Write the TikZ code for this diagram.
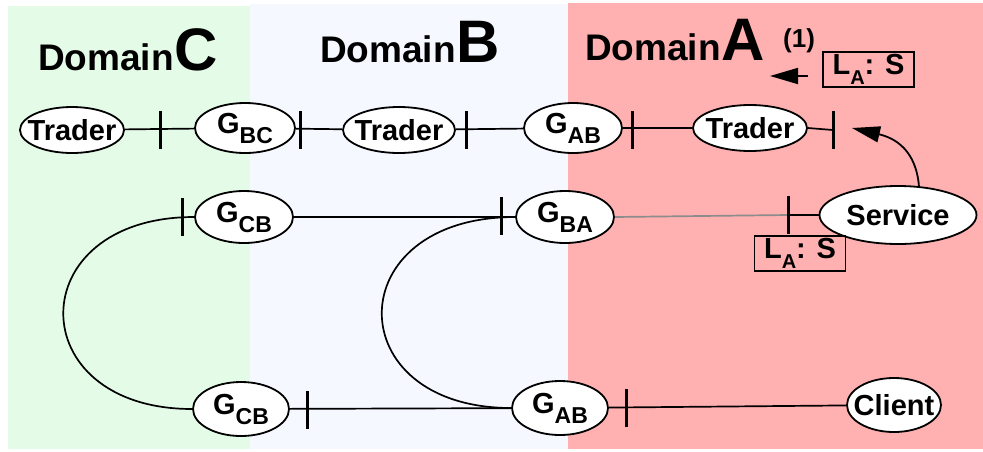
\documentclass[tikz,border=0pt]{standalone}
\usepackage{fontspec}
\setmainfont{Liberation Sans}
\usetikzlibrary{arrows.meta,shapes.geometric}
\definecolor{domC}{HTML}{E4FCE7}
\definecolor{domB}{HTML}{F5F8FF}
\definecolor{domA}{HTML}{FFB0B0}
\definecolor{linkgray}{HTML}{8C8C8C}
% lowered index used in gateway and lease labels
\newcommand{\lowidx}[2][23]{\raisebox{-10pt}{\fontsize{#1}{#1}\selectfont #2}}
\begin{document}
\begin{tikzpicture}[x=1pt,y=-1pt,
  entity/.style={ellipse,draw,fill=white,line width=1.8pt,inner xsep=-10pt,inner ysep=-10pt,
    font=\fontsize{29}{31}\selectfont\bfseries},
  trader/.style={entity,minimum width=106pt,minimum height=46pt},
  gate/.style={entity,minimum width=98pt,minimum height=52pt},
  lease/.style={draw,line width=1.6pt,inner sep=0pt,minimum width=91pt,minimum height=35pt,
    font=\fontsize{29}{31}\selectfont\bfseries},
  conn/.style={line width=1.7pt},
  title/.style={anchor=base west,inner sep=0pt,font=\bfseries},
  stopbar/.pic={\draw[line width=3pt] (0,-19) -- (0,19);},
  tipstyle/.style={-{Triangle[length=28pt,width=16pt]}}
]
\useasboundingbox (0,0) rectangle (983,451);
\fill[white] (0,0) rectangle (983,451);
% domain backgrounds
\fill[domC] (8,6) rectangle (250,449);
\fill[domB] (250,4) rectangle (568,449);
\fill[domA] (568,3) rectangle (983,449);

% domain titles
\node[title] (tC) at (38,70) {\fontsize{37}{37}\selectfont Domain\kern1pt\fontsize{60}{60}\selectfont C};
\node[title] (tB) at (320,62) {\fontsize{37}{37}\selectfont Domain\kern1pt\fontsize{60}{60}\selectfont B};
\node[title] (tA) at (585,60) {\fontsize{37}{37}\selectfont Domain\kern1pt\fontsize{60}{60}\selectfont A};
\node[title] (step1) at (783,47) {\fontsize{26}{26}\selectfont (1)};

% trader chain
\node[trader,minimum width=104pt] (trC) at (72,130) {Trader};
\node[gate,minimum width=100pt,minimum height=50pt] (gbc) at (245,128) {G\lowidx{BC}};
\node[trader,minimum width=112pt] (trB) at (399,130) {Trader};
\node[gate,minimum height=50pt] (gab1) at (573,128) {G\lowidx{AB}};
\node[trader,minimum width=114pt] (trA) at (750,128) {Trader};
\coordinate (trEnd) at (833,130);

% gateway row
\node[gate] (gcb1) at (244,217) {G\lowidx{CB}};
\node[gate] (gba) at (565,217) {G\lowidx{BA}};
\node[entity,minimum width=157pt,minimum height=58pt] (svc) at (898,215) {Service};

% client row
\node[gate,minimum width=96pt,minimum height=54pt] (gcb2) at (241,409) {G\lowidx{CB}};
\node[gate,minimum width=96pt,minimum height=54pt] (gab2) at (560,408) {G\lowidx{AB}};
\node[entity,minimum width=94pt,minimum height=54pt] (cli) at (894,405) {Client};

% lease boxes
\node[lease] (lease1) at (868.5,69.5) {L\lowidx[20]{A}: S};
\node[lease] (lease2) at (800,253.5) {L\lowidx[20]{A}: S};

% connectors
\draw[conn] (trC) -- (gbc);
\draw[conn] (gbc) -- (trB);
\draw[conn] (trB) -- (gab1);
\draw[conn] (gab1) -- (trA);
\draw[conn] (trA.east) -- (trEnd);
\draw[conn] (gcb1) -- (gba);
\draw[conn,linkgray] (gba.east) -- (788,215);
\draw[conn] (788,215) -- (svc.west);
\draw[conn] (gcb2) -- (gab2);
\draw[conn] (gab2) -- (cli);
\draw[conn] (gcb1.west) .. controls (20,217) and (20,409) .. (gcb2.west);
\draw[conn] (gba.west) .. controls (338,217) and (338,408) .. (gab2.west);

% interface bars
\pic at (160,130) {stopbar};
\pic at (300,130) {stopbar};
\pic at (466,130) {stopbar};
\pic at (632,130) {stopbar};
\pic at (trEnd) {stopbar};
\pic at (182,217) {stopbar};
\pic at (501,216) {stopbar};
\pic at (788,215) {stopbar};
\pic at (307,410) {stopbar};
\pic at (626,408) {stopbar};

% export arrows
\coordinate (m1s) at (808,76);
\coordinate (m1e) at (770,76);
\draw[conn,line width=1.8pt,tipstyle] (m1s) -- (m1e);
\coordinate (tipB) at (852,128);
\draw[conn,line width=1.8pt,tipstyle] (svc.54) .. controls (916,150) and (895,138) .. (tipB);
\end{tikzpicture}
\end{document}
